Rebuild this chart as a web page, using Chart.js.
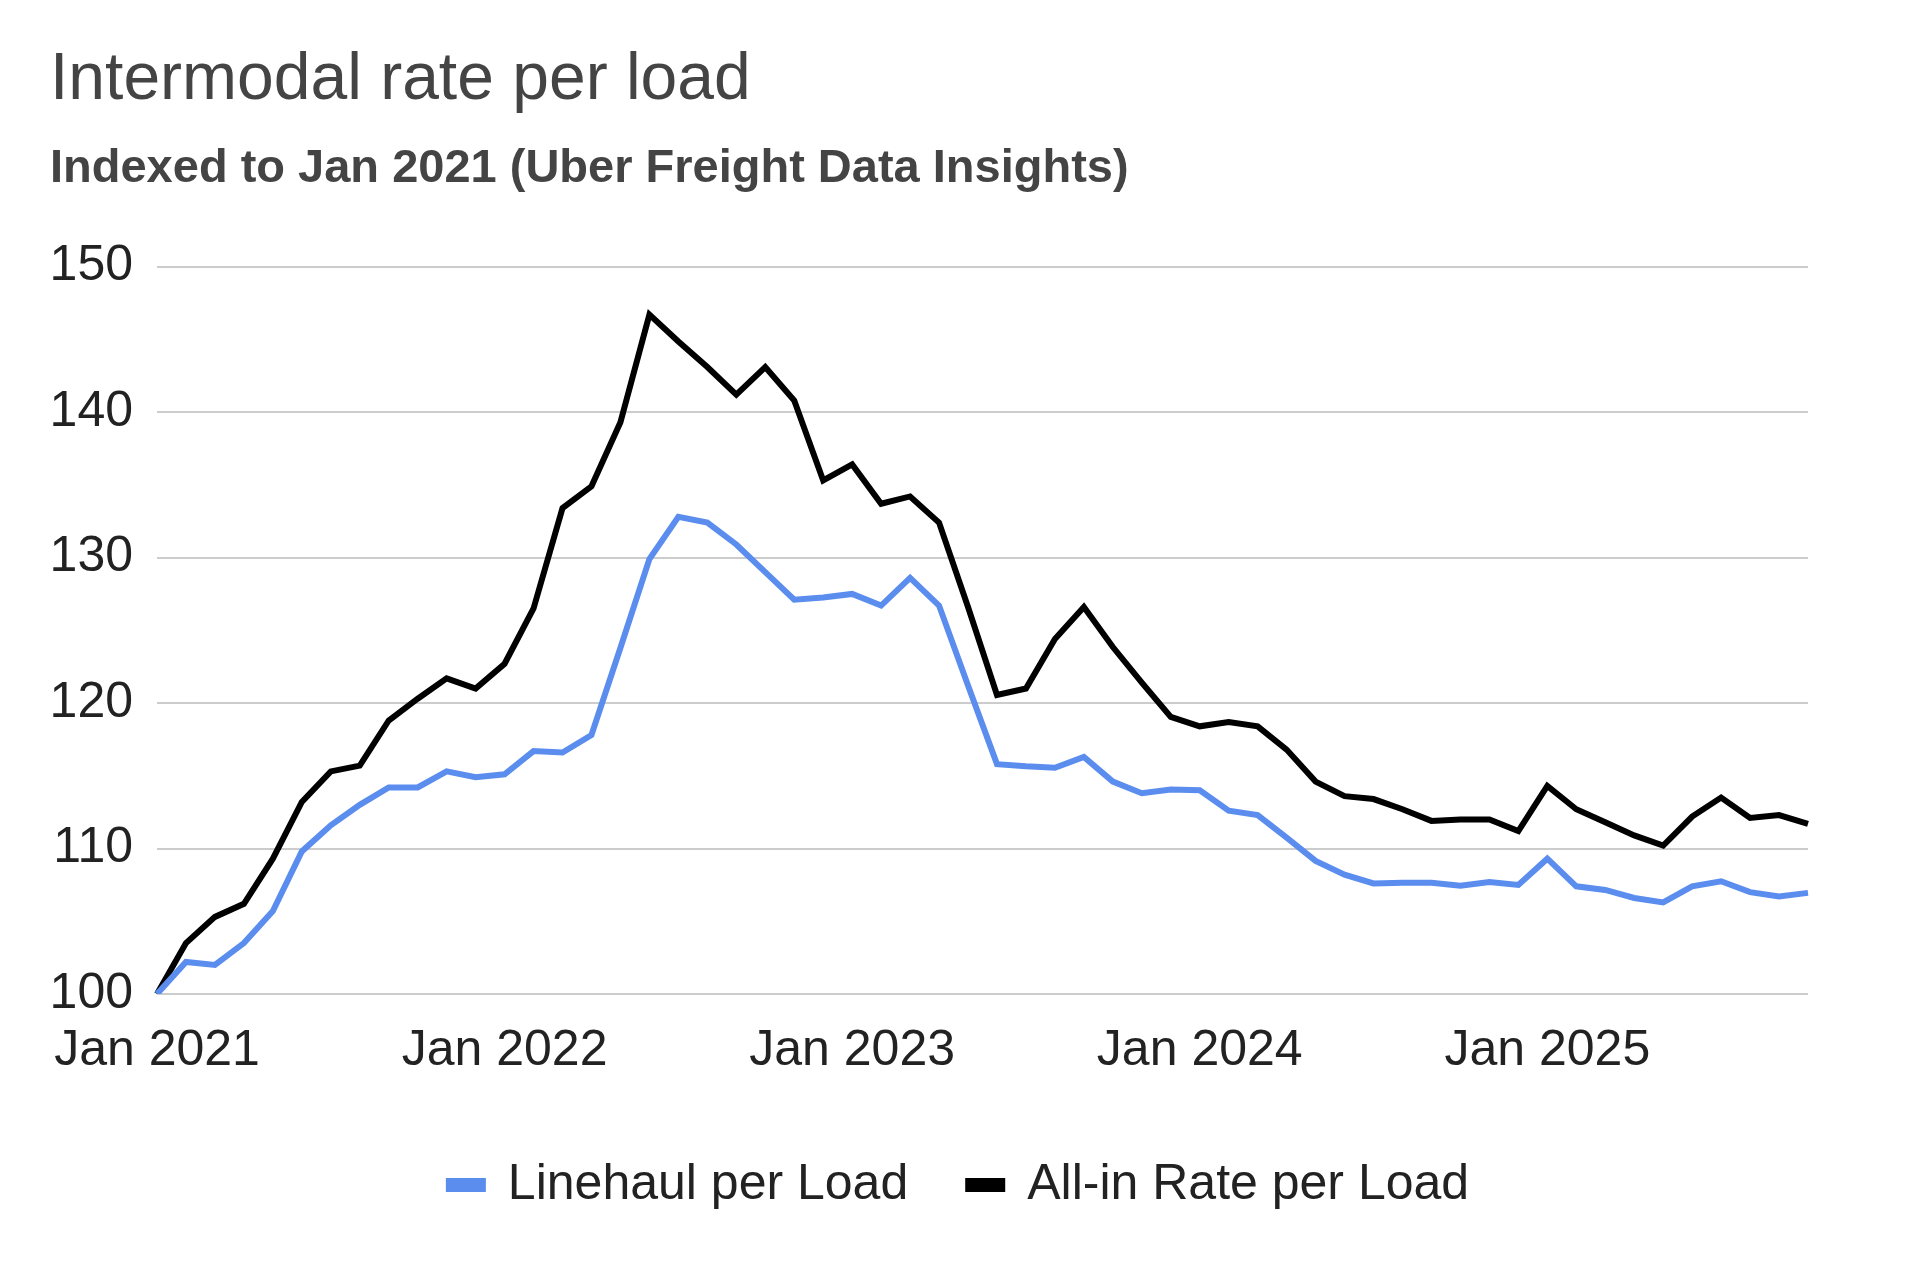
<!DOCTYPE html>
<html>
<head>
<meta charset="utf-8">
<script src="https://cdn.jsdelivr.net/npm/chart.js@4.4.1/dist/chart.umd.min.js"></script>
<style>
    html, body { margin: 0; padding: 0; background: #fff; }
    #wrap { width: 1918px; height: 1276px; position: relative; }
</style>
</head>
<body>
<div id="wrap"><canvas id="intermodal"></canvas></div>
<script>
const months = [
    'Jan 2021','Feb 2021','Mar 2021','Apr 2021','May 2021','Jun 2021','Jul 2021','Aug 2021','Sep 2021','Oct 2021','Nov 2021','Dec 2021',
    'Jan 2022','Feb 2022','Mar 2022','Apr 2022','May 2022','Jun 2022','Jul 2022','Aug 2022','Sep 2022','Oct 2022','Nov 2022','Dec 2022',
    'Jan 2023','Feb 2023','Mar 2023','Apr 2023','May 2023','Jun 2023','Jul 2023','Aug 2023','Sep 2023','Oct 2023','Nov 2023','Dec 2023',
    'Jan 2024','Feb 2024','Mar 2024','Apr 2024','May 2024','Jun 2024','Jul 2024','Aug 2024','Sep 2024','Oct 2024','Nov 2024','Dec 2024',
    'Jan 2025','Feb 2025','Mar 2025','Apr 2025','May 2025','Jun 2025','Jul 2025','Aug 2025','Sep 2025','Oct 2025'
];

const xTickLabels = ['Jan 2021', 'Jan 2022', 'Jan 2023', 'Jan 2024', 'Jan 2025'];
const yTicks = [100, 110, 120, 130, 140, 150];

const linehaul = [
    100, 102.2, 102.0, 103.5, 105.7, 109.8, 111.6, 113.0, 114.2, 114.2, 115.3, 114.9,
    115.1, 116.7, 116.6, 117.8, 123.8, 129.9, 132.8, 132.4, 130.9, 129.0, 127.1, 127.25,
    127.5, 126.7, 128.6, 126.7, 121.2, 115.8, 115.65, 115.55, 116.3, 114.6, 113.8, 114.05,
    114.0, 112.6, 112.3, 110.75, 109.15, 108.2, 107.6, 107.65, 107.65, 107.45, 107.7, 107.5,
    109.3, 107.4, 107.15, 106.6, 106.3, 107.4, 107.75, 107.0, 106.7, 106.95
];

const allIn = [
    100, 103.5, 105.3, 106.2, 109.3, 113.2, 115.3, 115.7, 118.8, 120.3, 121.7, 121.0,
    122.7, 126.5, 133.4, 134.9, 139.3, 146.7, 144.85, 143.1, 141.2, 143.1, 140.8, 135.3,
    136.4, 133.7, 134.2, 132.4, 126.6, 120.55, 121.0, 124.4, 126.6, 123.85, 121.4, 119.05,
    118.4, 118.7, 118.4, 116.8, 114.6, 113.6, 113.4, 112.7, 111.9, 112.0, 112.0, 111.2,
    114.3, 112.7, 111.8, 110.9, 110.2, 112.2, 113.5, 112.1, 112.3, 111.7
];

Chart.defaults.font.family = "'Liberation Sans', Arial, sans-serif";
Chart.defaults.color = '#222';

function drawChart() {
    const ctx = document.getElementById('intermodal');
    new Chart(ctx, {
        type: 'line',
        data: {
            labels: months,
            datasets: [
                {
                    label: 'Linehaul per Load',
                    data: linehaul,
                    borderColor: '#5b8def',
                    backgroundColor: '#5b8def',
                    borderWidth: 6,
                    pointRadius: 0,
                    tension: 0
                },
                {
                    label: 'All-in Rate per Load',
                    data: allIn,
                    borderColor: '#000000',
                    backgroundColor: '#000000',
                    borderWidth: 6,
                    pointRadius: 0,
                    tension: 0
                }
            ]
        },
        options: {
            responsive: true,
            maintainAspectRatio: false,
            devicePixelRatio: 1,
            animation: false,
            layout: {
                padding: {left: 50, right: 50, top: 10, bottom: 56}
            },
            plugins: {
                title: {
                    display: true,
                    text: 'Intermodal rate per load',
                    align: 'start',
                    color: '#444',
                    font: {size: 66, weight: 'normal'},
                    padding: {top: 31, bottom: 0}
                },
                subtitle: {
                    display: true,
                    text: 'Indexed to Jan 2021 (Uber Freight Data Insights)',
                    align: 'start',
                    color: '#444',
                    font: {size: 47, weight: 'bold'},
                    padding: {top: 21, bottom: 69}
                },
                legend: {
                    position: 'bottom',
                    labels: {
                        color: '#222',
                        font: {size: 50},
                        boxWidth: 34,
                        boxHeight: 8,
                        padding: 60
                    }
                },
                tooltip: {enabled: false}
            },
            scales: {
                x: {
                    grid: {display: false},
                    border: {display: false},
                    ticks: {
                        autoSkip: false,
                        maxRotation: 0,
                        padding: 8,
                        color: '#222',
                        font: {size: 50, lineHeight: 1.64},
                        callback: function (value, index) {
                            let lbl = months[index];
                            return xTickLabels.includes(lbl) ? lbl : '';
                        }
                    }
                },
                y: {
                    min: 100,
                    max: 150,
                    afterBuildTicks: axis => {
                        axis.ticks = yTicks.map(v => ({value: v}));
                    },
                    afterFit: axis => { axis.width = 107; },
                    grid: {color: '#cccccc', lineWidth: 2, drawTicks: false},
                    border: {display: false},
                    ticks: {
                        padding: 24,
                        color: '#222',
                        font: {size: 50}
                    }
                },
                y2: {
                    position: 'right',
                    display: true,
                    grid: {display: false},
                    border: {display: false},
                    ticks: {display: false},
                    afterFit: axis => { axis.width = 60; }
                }
            }
        }
    });
}

window.addEventListener('load', evt => drawChart());
</script>
</body>
</html>
